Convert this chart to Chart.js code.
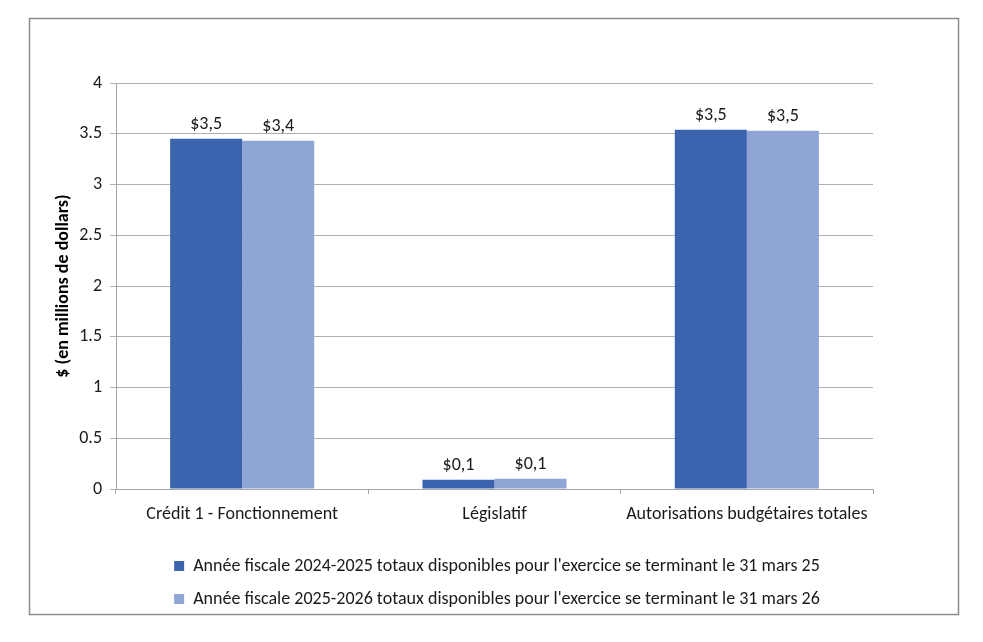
<!DOCTYPE html>
<html>
<head>
<meta charset="utf-8">
<script src="https://cdn.jsdelivr.net/npm/chart.js@4.4.1/dist/chart.umd.min.js"></script>
<style>
  html, body { margin: 0; padding: 0; background: #fff; }
  #wrap { width: 983px; height: 642px; }
</style>
</head>
<body>
<div id="wrap"><canvas id="budgetChart" width="983" height="642"></canvas></div>
<script>
var categories = ['Crédit 1 - Fonctionnement', 'Législatif', 'Autorisations budgétaires totales'];
var seriesNames = [
    "Année fiscale 2024-2025 totaux disponibles pour l'exercice se terminant le 31 mars 25",
    "Année fiscale 2025-2026 totaux disponibles pour l'exercice se terminant le 31 mars 26"
];
var values2425 = [3.45, 0.09, 3.54];
var values2526 = [3.43, 0.10, 3.53];
var yTicks = [0, 0.5, 1, 1.5, 2, 2.5, 3, 3.5, 4];

var FONT = 'Carlito, Lato, "Liberation Sans", sans-serif';
var FSIZE = 18;

function moneyLabel(v) {
    var r = Math.round(v * 10 + 1e-9) / 10;
    return '$' + r.toFixed(1).replace('.', ',');
}

// outer frame like the Excel chart area border
var framePlugin = {
    id: 'frame',
    beforeDraw: function(chart) {
        var c = chart.ctx;
        c.save();
        c.fillStyle = '#fff';
        c.fillRect(0, 0, chart.width, chart.height);
        c.strokeStyle = '#8c8c8c';
        c.lineWidth = 1.5;
        c.strokeRect(29.5, 18.5, 929, 596);
        c.restore();
    }
};

// value labels above each bar
var valueLabels = {
    id: 'valueLabels',
    afterDatasetsDraw: function(chart) {
        var c = chart.ctx;
        c.save();
        c.font = FSIZE + 'px ' + FONT;
        c.fillStyle = '#1a1a1a';
        c.textAlign = 'center';
        c.textBaseline = 'bottom';
        chart.data.datasets.forEach(function(ds, i) {
            chart.getDatasetMeta(i).data.forEach(function(bar, j) {
                c.fillText(moneyLabel(ds.data[j]), bar.x, bar.y - 5);
            });
        });
        c.restore();
    }
};

var ctx = document.getElementById('budgetChart').getContext('2d');
var chart = new Chart(ctx, {
    type: 'bar',
    data: {
        labels: categories,
        datasets: [{
            label: seriesNames[0],
            data: values2425,
            backgroundColor: '#3c64ae'
        }, {
            label: seriesNames[1],
            data: values2526,
            backgroundColor: '#8fa5d6'
        }]
    },
    options: {
        responsive: false,
        animation: false,
        devicePixelRatio: 1,
        categoryPercentage: 0.571,
        barPercentage: 1,
        layout: {
            padding: { left: 53, right: 42, top: 83, bottom: 24 }
        },
        plugins: {
            legend: {
                position: 'bottom',
                labels: {
                    boxWidth: 10,
                    boxHeight: 10,
                    padding: 15,
                    color: '#1a1a1a',
                    font: { family: FONT, size: FSIZE }
                }
            },
            tooltip: { enabled: false }
        },
        scales: {
            x: {
                afterFit: function(scale) { scale.height = 53; },
                grid: {
                    offset: true,
                    drawOnChartArea: false,
                    drawTicks: true,
                    tickLength: 5,
                    color: '#a6a6a6'
                },
                border: { color: '#a6a6a6' },
                ticks: {
                    padding: 10,
                    color: '#1a1a1a',
                    font: { family: FONT, size: FSIZE }
                }
            },
            y: {
                min: 0,
                max: 4,
                afterFit: function(scale) { scale.width = 63; },
                afterBuildTicks: function(scale) {
                    scale.ticks = yTicks.map(function(v) { return { value: v }; });
                },
                grid: {
                    color: '#b0b0b0',
                    tickLength: 6
                },
                border: { color: '#a6a6a6' },
                ticks: {
                    padding: 8,
                    color: '#1a1a1a',
                    font: { family: FONT, size: FSIZE },
                    callback: function(v) { return String(v); }
                },
                title: {
                    display: true,
                    text: '$ (en millions de dollars)',
                    color: '#000',
                    padding: 0,
                    font: { family: FONT, size: FSIZE, weight: 'bold' }
                }
            },
            // empty right-hand spacer so the legend centres on the frame
            spacer: {
                type: 'linear',
                position: 'right',
                afterFit: function(scale) { scale.width = 68; },
                grid: { display: false, drawOnChartArea: false },
                border: { display: false },
                ticks: { display: false }
            }
        }
    },
    plugins: [framePlugin, valueLabels]
});
</script>
</body>
</html>
